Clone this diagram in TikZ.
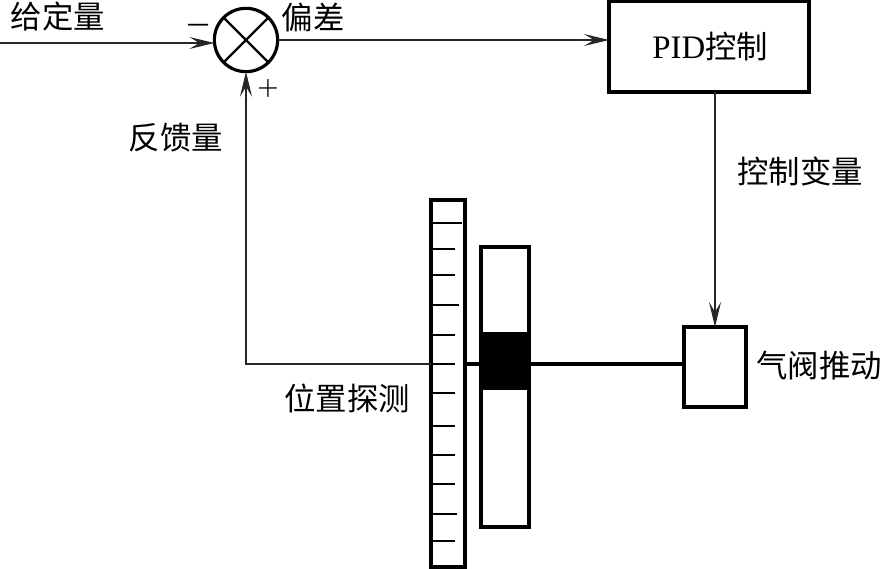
\documentclass[tikz,border=0pt]{standalone}
\usepackage{fontspec}
\setmainfont{Liberation Serif}
\newfontfamily\cjk{Noto Sans CJK SC}
\usetikzlibrary{arrows.meta}

\begin{document}
\begin{tikzpicture}[x=0.03cm,y=-0.03cm,>={Stealth[length=0.75cm,width=0.36cm,inset=0.3cm]},
        wire/.style={line width=1.2pt,black!85},
        rod/.style={line width=2.6pt},
        tick/.style={line width=1.2pt},
        blockbox/.style={draw,line width=2.7pt,outer sep=0pt,inner sep=0pt},
        lbl/.style={font=\cjk\fontsize{26.8}{28}\selectfont,inner sep=0pt}]
    \useasboundingbox (0,0) rectangle (881,569);
    % --- Summing point and control box ---
    \node[blockbox,circle,minimum size=1.9cm] (sum) at (246,40) {};
    \draw[line width=2pt] (sum.45) -- (sum.225);
    \draw[line width=2pt] (sum.135) -- (sum.315);
    \node[blockbox,lbl,minimum width=6cm,minimum height=2.73cm] (pid) at (709,46.5) {\hspace{2pt}{\rmfamily\fontsize{28}{30}\selectfont PID}控制};
    \node[blockbox,minimum width=1.86cm,minimum height=2.4cm] (valve) at (715,367) {};
    % --- Graduated scale, slot and black slider ---
    \node[blockbox,minimum width=1.02cm,minimum height=11.01cm] (scale) at (448,383.5) {};
    \node[blockbox,minimum width=1.44cm,minimum height=8.4cm] (slot) at (505,387) {};
    \node[blockbox,fill=black,minimum width=1.44cm,minimum height=1.66cm] (slider) at (505,361) {};
    \foreach \y/\e in {223/462,249/455,275/455,305/459,335/455,364/455,393/455,426/455,455/455,484/455,514/457,541/455}
        \draw[tick] (scale.west |- 0,\y) -- (\e,\y);
    % --- Connectors ---
    \coordinate (in) at (0,43);
    \coordinate (axis) at (560,364);
    \draw[->,wire] (in) -- (in -| sum.west);
    \draw[->,wire] (sum.east) -- (sum.east -| pid.west);
    \draw[->,wire] (valve.north |- pid.south) -- (valve.north);
    \draw[->,wire] (axis -| scale.west) -| (sum.south);
    \draw[rod] (axis -| scale.east) -- (axis -| slider.west);
    \draw[rod] (axis -| slider.east) -- (axis -| valve.west);
    % --- Labels ---
    \node[lbl] (setpoint) at (58,17) {给定量};
    \node[lbl] (error) at (313,17) {偏差};
    \node[inner sep=0pt,font=\fontsize{26}{28}\selectfont\boldmath] (minus) at (199,25) {$-$};
    \node[inner sep=0pt,font=\fontsize{21}{24}\selectfont\boldmath] (plus) at (268,88) {$+$};
    \node[lbl] (feedback) at (176,138) {反馈量};
    \node[lbl] (ctrlvar) at (800,171) {控制变量};
    \node[lbl] (valvename) at (819,366) {气阀推动};
    \node[lbl] (detect) at (347,398) {位置探测};
\end{tikzpicture}
\end{document}
